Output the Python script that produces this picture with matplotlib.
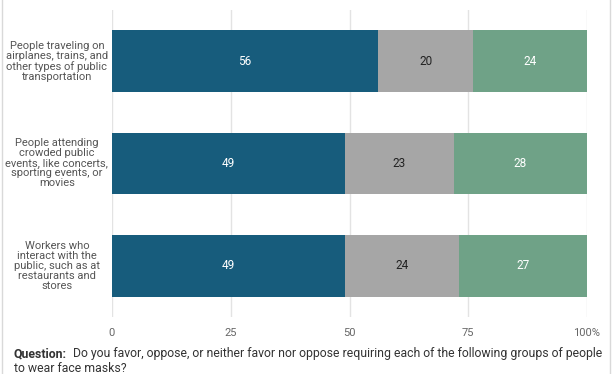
import matplotlib
matplotlib.use("Agg")
import matplotlib.pyplot as plt
from matplotlib.lines import Line2D

plt.rcParams["font.family"] = ["Roboto", "DejaVu Sans"]

categories = [
    "People traveling on\nairplanes, trains, and\nother types of public\ntransportation",
    "People attending\ncrowded public\nevents, like concerts,\nsporting events, or\nmovies",
    "Workers who\ninteract with the\npublic, such as at\nrestaurants and\nstores",
]
favor = [56, 49, 49]
neither = [20, 23, 24]
oppose = [24, 28, 27]
ticks = [0, 25, 50, 75, 100]
tick_labels = ["0", "25", "50", "75", "100%"]

colors = ["#175c7c", "#a6a6a6", "#6fa287"]
text_colors = ["white", "#222222", "white"]

W, H = 612, 374
fig = plt.figure(figsize=(W / 100, H / 100), dpi=100)
ax = fig.add_axes([112 / W, 1 - 317 / H, (587 - 112) / W, (317 - 10) / H])

ypos = list(range(len(categories)))
left = [0] * len(categories)
for vals, c, tc in zip([favor, neither, oppose], colors, text_colors):
    bars = ax.barh(ypos, vals, left=left, height=0.6, color=c, zorder=3)
    for b, v in zip(bars, vals):
        ax.text(b.get_x() + b.get_width() / 2, b.get_y() + b.get_height() / 2,
                str(v), ha="center", va="center", color=tc, fontsize=8.5, zorder=4)
    left = [l + v for l, v in zip(left, vals)]

ax.set_xlim(0, 100)
ax.set_ylim(len(categories) - 0.5, -0.5)
ax.set_xticks(ticks)
ax.set_xticklabels(tick_labels)
ax.grid(axis="x", color="#e3e3e3", linewidth=1, zorder=0)
ax.tick_params(axis="x", length=0, pad=8, labelsize=8, labelcolor="#666666")
ax.set_yticks([])
for s in ax.spines.values():
    s.set_visible(False)

for y, cat in zip(ypos, categories):
    ax.text(-0.116, y, cat, transform=ax.get_yaxis_transform(), ha="center",
            va="center", fontsize=8, color="#555555", linespacing=1.0)

# side rules of the frame
fig.add_artist(Line2D([1.5 / W, 1.5 / W], [0, 1], color="#d9d9d9", lw=1))
fig.add_artist(Line2D([609.5 / W, 609.5 / W], [0, 1], color="#d9d9d9", lw=1))

fig.text(14 / W, 1 - 354 / H, "Question:", fontsize=8.8, fontweight="bold",
         color="#333333", va="center")
fig.text(73 / W, 1 - 354 / H,
         "Do you favor, oppose, or neither favor nor oppose requiring each of the following groups of people",
         fontsize=8.8, color="#333333", va="center")
fig.text(14 / W, 1 - 368 / H, "to wear face masks?", fontsize=8.8,
         color="#333333", va="center")

fig.savefig("out.png", dpi=100)
